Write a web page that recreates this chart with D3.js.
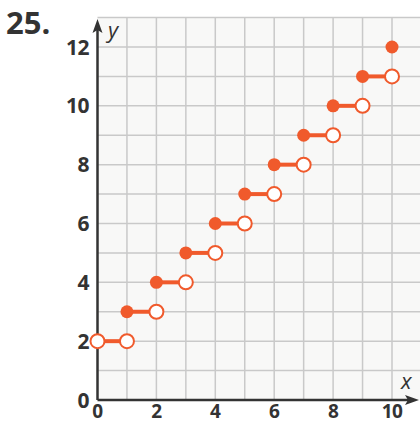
<!DOCTYPE html>
<html><head><meta charset="utf-8">
<script src="https://cdn.jsdelivr.net/npm/d3@7"></script>
<style>body{margin:0;background:#fff}svg{display:block}</style>
</head><body>
<svg id="c" width="420" height="425"></svg>
<script>
const problemLabel = "25.";
const xTicks = [0, 2, 4, 6, 8, 10];
const yTicks = [0, 2, 4, 6, 8, 10, 12];
const stepY = [2, 3, 4, 5, 6, 7, 8, 9, 10, 11, 12];
const stepStart = [0, 1, 2, 3, 4, 5, 6, 7, 8, 9, 10];
const stepEnd = [1, 2, 3, 4, 5, 6, 7, 8, 9, 10, 10];
const startFilled = [false, true, true, true, true, true, true, true, true, true, true];
const endHasOpen = [true, true, true, true, true, true, true, true, true, true, false];

const svg = d3.select("#c");
const x = d3.scaleLinear().domain([0, 10]).range([97.5, 392]);
const y = d3.scaleLinear().domain([0, 12]).range([400, 47]);
const col = "#f05a2c", axc = "#333333";

// grid background
const gx0 = x(0), gx1 = 420, gy0 = y(13), gy1 = y(0);
svg.append("rect").attr("x", gx0).attr("y", gy0).attr("width", gx1 - gx0).attr("height", gy1 - gy0).attr("fill", "#f8f8f7");
const g = svg.append("g").attr("stroke", "#c9c9c9").attr("stroke-width", 1.5);
d3.range(1, 12).forEach(v => g.append("line").attr("x1", x(v)).attr("x2", x(v)).attr("y1", gy0).attr("y2", gy1));
d3.range(1, 14).forEach(v => g.append("line").attr("x1", gx0).attr("x2", gx1).attr("y1", y(v)).attr("y2", y(v)));

// axes
svg.append("line").attr("x1", x(0)).attr("x2", 412).attr("y1", y(0)).attr("y2", y(0)).attr("stroke", axc).attr("stroke-width", 2.5);
svg.append("line").attr("x1", x(0)).attr("x2", x(0)).attr("y1", y(0)).attr("y2", 26).attr("stroke", axc).attr("stroke-width", 2.5);
svg.append("path").attr("d", `M419,${y(0)} L405,${y(0)-5} L408,${y(0)} L405,${y(0)+5} Z`).attr("fill", axc);
svg.append("path").attr("d", `M${x(0)},19 L${x(0)-5},33 L${x(0)},30 L${x(0)+5},33 Z`).attr("fill", axc);

// tick labels
const tf = "'Open Sans', 'Noto Sans', sans-serif";
svg.selectAll(".xt").data(xTicks).enter().append("text")
  .attr("x", d => x(d)).attr("y", 418).attr("text-anchor", "middle")
  .attr("font-family", tf).attr("font-weight", "bold").attr("font-size", 19).attr("fill", axc)
  .attr("letter-spacing", -0.5).text(d => d);
svg.selectAll(".yt").data(yTicks).enter().append("text")
  .attr("x", 89).attr("y", d => y(d) + 7.5).attr("text-anchor", "end")
  .attr("font-family", tf).attr("font-weight", "bold").attr("font-size", 21).attr("fill", axc)
  .attr("letter-spacing", -0.5).text(d => d);

svg.append("text").attr("x", 108).attr("y", 38).attr("font-family", tf).attr("font-style", "italic")
  .attr("font-size", 22).attr("fill", axc).text("y");
svg.append("text").attr("x", 401).attr("y", 389).attr("font-family", tf).attr("font-style", "italic")
  .attr("font-size", 22).attr("fill", axc).text("x");
svg.append("text").attr("x", 6).attr("y", 34).attr("font-family", tf).attr("font-weight", "bold")
  .attr("font-size", 31).attr("fill", axc).text(problemLabel);

// steps
const idx = d3.range(stepY.length);
svg.selectAll(".seg").data(idx.filter(i => stepEnd[i] > stepStart[i])).enter().append("line")
  .attr("x1", i => x(stepStart[i])).attr("x2", i => x(stepEnd[i]))
  .attr("y1", i => y(stepY[i])).attr("y2", i => y(stepY[i]))
  .attr("stroke", col).attr("stroke-width", 4);
svg.selectAll(".oe").data(idx.filter(i => endHasOpen[i])).enter().append("circle")
  .attr("cx", i => x(stepEnd[i])).attr("cy", i => y(stepY[i])).attr("r", 7)
  .attr("fill", "#fff").attr("stroke", col).attr("stroke-width", 2);
svg.selectAll(".os").data(idx.filter(i => !startFilled[i])).enter().append("circle")
  .attr("cx", i => x(stepStart[i])).attr("cy", i => y(stepY[i])).attr("r", 7)
  .attr("fill", "#fff").attr("stroke", col).attr("stroke-width", 2);
svg.selectAll(".fs").data(idx.filter(i => startFilled[i])).enter().append("circle")
  .attr("cx", i => x(stepStart[i])).attr("cy", i => y(stepY[i])).attr("r", 6.5)
  .attr("fill", col);
</script>
</body></html>
